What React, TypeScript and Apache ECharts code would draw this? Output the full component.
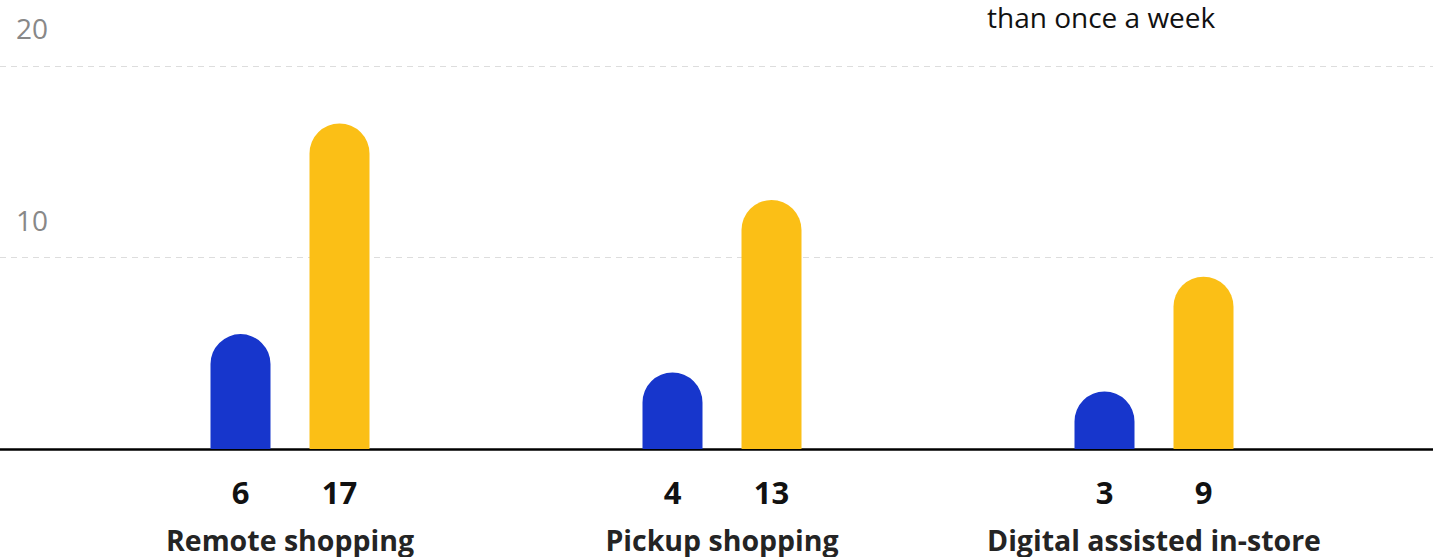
import React, { useEffect, useRef } from "react";
import * as echarts from "echarts";

const categories = ["Remote shopping", "Pickup shopping", "Digital assisted in-store"];
const seriesA = [6, 4, 3];
const seriesB = [17, 13, 9];
const yTicks = [0, 10, 20];
const legendTail = "than once a week";

const FONT = "'Open Sans', sans-serif";

export default function App() {
  const ref = useRef<HTMLDivElement>(null);
  useEffect(() => {
    document.body.style.margin = "0";
    const chart = echarts.init(ref.current!, null, { renderer: "svg" });
    const valueLabel = {
      show: true,
      position: "bottom" as const,
      distance: 28,
      color: "#111",
      fontFamily: FONT,
      fontWeight: "bold" as const,
      fontSize: 31,
      lineHeight: 30,
    };
    chart.setOption({
      animation: false,
      grid: [
        { left: 0, right: 0, top: 66, bottom: 108, containLabel: false },
        { left: 74, right: 63, top: 66, bottom: 108, containLabel: false },
      ],
      xAxis: [
        {
          gridIndex: 0,
          type: "value",
          min: 0,
          max: 1,
          axisLine: { show: true, lineStyle: { color: "#000", width: 2.5 } },
          axisTick: { show: false },
          axisLabel: { show: false },
          splitLine: { show: false },
        },
        {
          gridIndex: 1,
          type: "category",
          data: categories,
          axisLine: { show: false },
          axisTick: { show: false },
          axisLabel: {
            margin: 76,
            color: "#242424",
            fontFamily: FONT,
            fontWeight: "bold",
            fontSize: 28.5,
            interval: 0,
          },
        },
      ],
      yAxis: [
        {
          gridIndex: 0,
          type: "value",
          min: yTicks[0],
          max: yTicks[yTicks.length - 1],
          interval: 10,
          axisLine: { show: false },
          axisTick: { show: false },
          axisLabel: {
            inside: true,
            margin: 16,
            verticalAlign: "bottom",
            padding: [0, 0, 24, 0],
            color: "#888",
            fontFamily: FONT,
            fontSize: 28,
            formatter: (v: number) => (v === 0 ? "" : String(v)),
          },
          splitLine: { show: true, lineStyle: { color: "#ddd", type: [6, 5], width: 1 } },
        },
        {
          gridIndex: 1,
          type: "value",
          min: yTicks[0],
          max: yTicks[yTicks.length - 1],
          show: false,
          splitLine: { show: false },
        },
      ],
      graphic: [
        {
          type: "text",
          left: 987,
          top: 3,
          style: {
            text: legendTail,
            fill: "#111",
            fontFamily: FONT,
            fontSize: 28,
          },
        },
      ],
      series: [
        {
          type: "bar",
          xAxisIndex: 1,
          yAxisIndex: 1,
          data: seriesA,
          barWidth: 60,
          barGap: "65%",
          itemStyle: { color: "#1736CC", borderRadius: [30, 30, 0, 0] },
          label: valueLabel,
        },
        {
          type: "bar",
          xAxisIndex: 1,
          yAxisIndex: 1,
          data: seriesB,
          barWidth: 60,
          barGap: "65%",
          itemStyle: { color: "#FBBF16", borderRadius: [30, 30, 0, 0] },
          label: valueLabel,
        },
      ],
    });
    return () => chart.dispose();
  }, []);
  return (
    <div
      ref={ref}
      style={{ position: "absolute", left: 0, top: 0, width: 1433, height: 557 }}
    />
  );
}
